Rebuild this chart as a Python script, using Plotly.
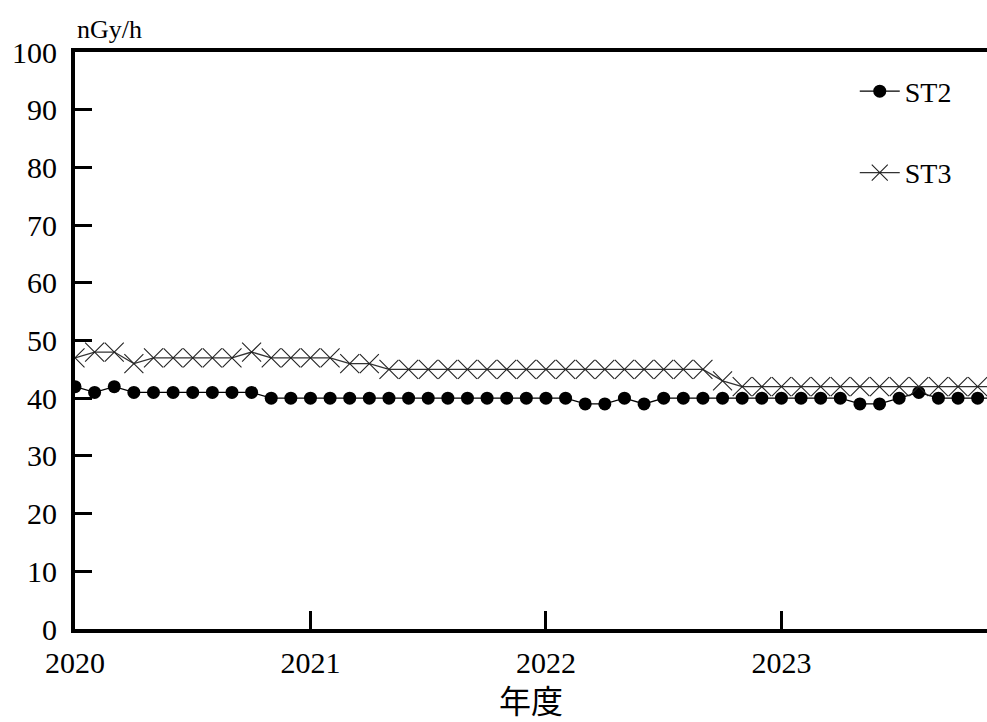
import plotly.graph_objects as go

# fiscal-year months (48 monthly readings starting April 2020)
month_index = list(range(48))
x_years = [2020 + m / 12 for m in month_index]

st2 = [42, 41, 42, 41, 41, 41, 41, 41, 41, 41,
       40, 40, 40, 40, 40, 40, 40, 40, 40, 40, 40, 40, 40, 40, 40, 40,
       39, 39, 40, 39,
       40, 40, 40, 40, 40, 40, 40, 40, 40, 40,
       39, 39, 40, 41, 40, 40, 40, 40]
st3 = [47, 48, 48, 46, 47, 47, 47, 47, 47, 48,
       47, 47, 47, 47, 46, 46,
       45, 45, 45, 45, 45, 45, 45, 45, 45, 45, 45, 45, 45, 45, 45, 45, 45,
       43,
       42, 42, 42, 42, 42, 42, 42, 42, 42, 42, 42, 42, 42, 42]

x_ticks = [2020, 2021, 2022, 2023]
x_tick_labels = ["2020", "2021", "2022", "2023"]
y_ticks = list(range(0, 101, 10))

SERIF = "Liberation Serif"

fig = go.Figure()
fig.add_trace(go.Scatter(
    x=x_years, y=st2, name="ST2", mode="lines+markers", legendgroup="a",
    line=dict(color="black", width=1.3),
    marker=dict(symbol="circle", size=13, color="black"),
    cliponaxis=True,
))
fig.add_trace(go.Scatter(
    x=x_years, y=st3, name="ST3", mode="lines+markers", legendgroup="b",
    line=dict(color="#333333", width=1.3),
    marker=dict(symbol="x-thin", size=19, color="#222222",
                line=dict(width=1.1, color="#222222")),
    cliponaxis=True,
))

fig.update_layout(
    width=987, height=722,
    margin=dict(l=75, r=0, t=52, b=93),
    paper_bgcolor="white", plot_bgcolor="white",
    font=dict(family=SERIF, color="black", size=28),
    showlegend=True,
    legend=dict(
        x=0.855, y=0.975, xanchor="left", yanchor="top",
        bgcolor="rgba(0,0,0,0)", borderwidth=0,
        font=dict(family=SERIF, size=28, color="black"),
        traceorder="grouped", tracegroupgap=42,
        itemwidth=40,
    ),
    xaxis=dict(
        range=[2020, 2023.873],
        tickmode="array", tickvals=x_ticks, ticktext=x_tick_labels,
        ticks="inside", ticklen=18, tickwidth=3, tickcolor="black",
        showline=True, linewidth=4, linecolor="black", mirror=True,
        showgrid=False, zeroline=False,
        tickfont=dict(family=SERIF, size=30),
        ticklabelstandoff=4,
        title=dict(text="年度", standoff=0,
                   font=dict(family="Noto Sans CJK JP", size=32)),
    ),
    yaxis=dict(
        range=[0, 100],
        tickmode="array", tickvals=y_ticks,
        ticks="inside", ticklen=17, tickwidth=3, tickcolor="black",
        showline=True, linewidth=4, linecolor="black", mirror=False,
        showgrid=False, zeroline=False,
        tickfont=dict(family=SERIF, size=30),
        ticklabelstandoff=8,
    ),
    annotations=[dict(
        text="nGy/h", xref="paper", yref="paper", x=0, y=1,
        xanchor="left", yanchor="bottom", yshift=6, xshift=0,
        showarrow=False, font=dict(family=SERIF, size=26),
    )],
)

fig.write_html("out.html")
